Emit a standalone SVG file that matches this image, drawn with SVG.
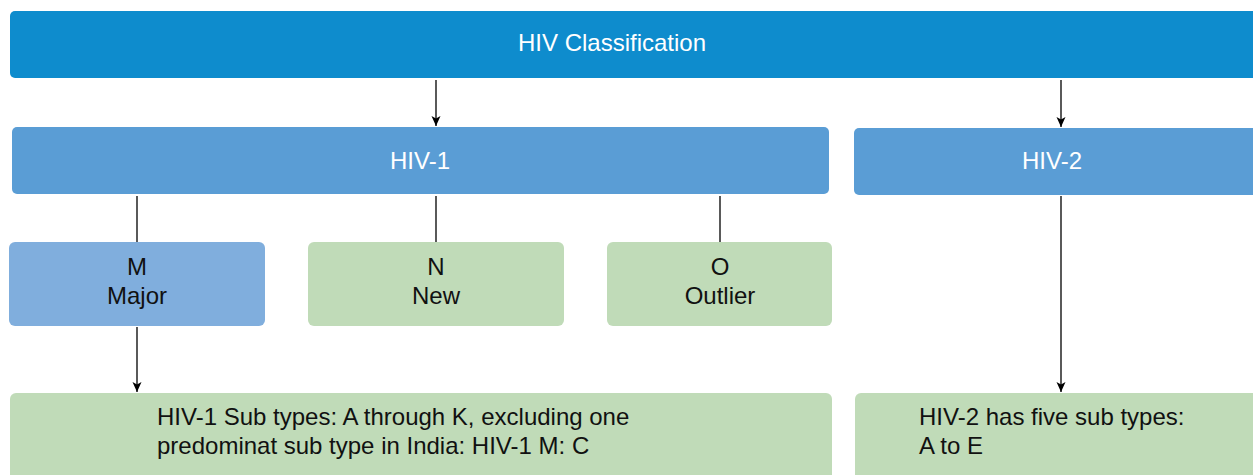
<svg xmlns="http://www.w3.org/2000/svg" width="1253" height="475" viewBox="0 0 1253 475">
<style>
text{font-family:"Liberation Sans",Arial,sans-serif;font-size:24px}
.w{fill:#ffffff}
.k{fill:#111111}
.c{text-anchor:middle}
.top{fill:#0e8ccd}
.mid{fill:#5a9dd5}
.m{fill:#80aedd}
.g{fill:#c0dbb8}
.ln{stroke:#000;stroke-width:1.3;fill:none}
</style>
<defs>
<marker id="ah" markerWidth="12" markerHeight="12" refX="10" refY="5" orient="auto" markerUnits="userSpaceOnUse">
<path d="M0,0.5 L10,5 L0,9.5 L2.5,5 Z" fill="#000"/>
</marker>
</defs>
<g id="connectors">
<line class="ln" x1="436" y1="80" x2="436" y2="126" marker-end="url(#ah)"/>
<line class="ln" x1="1061" y1="80" x2="1061" y2="127" marker-end="url(#ah)"/>
<line class="ln" x1="137" y1="196" x2="137" y2="242"/>
<line class="ln" x1="436" y1="196" x2="436" y2="242"/>
<line class="ln" x1="720" y1="196" x2="720" y2="242"/>
<line class="ln" x1="137" y1="327" x2="137" y2="392" marker-end="url(#ah)"/>
<line class="ln" x1="1061" y1="196" x2="1061" y2="392" marker-end="url(#ah)"/>
</g>
<g id="root"><rect class="top" x="10" y="11" width="1250" height="67" rx="5"/><text class="w c" x="612" y="51">HIV Classification</text></g>
<g id="hiv1"><rect class="mid" x="12" y="127" width="817" height="67" rx="5"/><text class="w c" x="420" y="169">HIV-1</text></g>
<g id="hiv2"><rect class="mid" x="854" y="128" width="406" height="67" rx="5"/><text class="w c" x="1052" y="169">HIV-2</text></g>
<g id="m"><rect class="m" x="9" y="242" width="256" height="84" rx="6"/><text class="k c" x="137" y="275">M</text><text class="k c" x="137" y="304">Major</text></g>
<g id="n"><rect class="g" x="308" y="242" width="256" height="84" rx="6"/><text class="k c" x="436" y="275">N</text><text class="k c" x="436" y="304">New</text></g>
<g id="o"><rect class="g" x="607" y="242" width="225" height="84" rx="6"/><text class="k c" x="720" y="275">O</text><text class="k c" x="720" y="304">Outlier</text></g>
<g id="hiv1sub"><rect class="g" x="10" y="393" width="822" height="90" rx="6"/><text class="k" x="157" y="425">HIV-1 Sub types: A through K, excluding one</text><text class="k" x="157" y="454">predominat sub type in India: HIV-1 M: C</text></g>
<g id="hiv2sub"><rect class="g" x="855" y="393" width="405" height="90" rx="6"/><text class="k" x="919" y="425">HIV-2 has five sub types:</text><text class="k" x="919" y="454">A to E</text></g>
</svg>
